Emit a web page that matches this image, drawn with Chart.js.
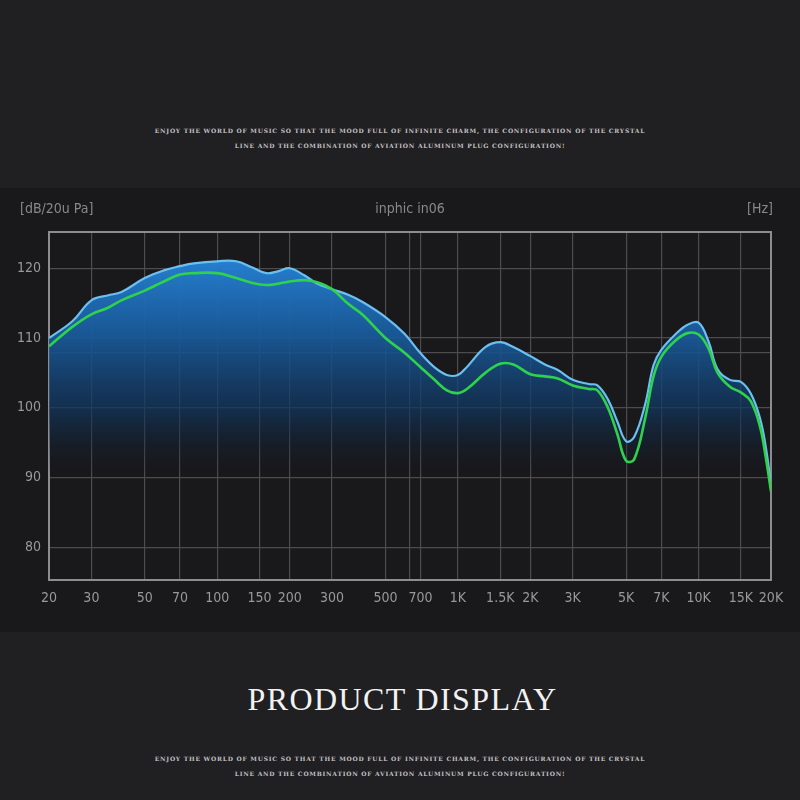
<!DOCTYPE html>
<html>
<head>
<meta charset="utf-8">
<script src="https://cdn.jsdelivr.net/npm/chart.js@4.4.1/dist/chart.umd.min.js"></script>
<style>
    html, body { margin: 0; padding: 0; }
    body { width: 800px; height: 800px; background: #201f22; position: relative; overflow: hidden; }
    .blurb { position: absolute; left: 0; width: 800px; text-align: center; color: #c4c2c4;
        font-family: "DejaVu Serif", "Liberation Serif", serif; font-weight: bold; font-size: 6px;
        letter-spacing: 0.75px; line-height: 15px; }
    #panel { position: absolute; left: 0; top: 188px; width: 800px; height: 444px; background: #19181a; }
    #title { position: absolute; left: 0; width: 805px; top: 681px; text-align: center; color: #f2f2f2;
        font-family: "Liberation Serif", "DejaVu Serif", serif; font-size: 32px; letter-spacing: 1.4px; }
</style>
</head>
<body>
<div class="blurb" style="top:123px">ENJOY THE WORLD OF MUSIC SO THAT THE MOOD FULL OF INFINITE CHARM, THE CONFIGURATION OF THE CRYSTAL<br>LINE AND THE COMBINATION OF AVIATION ALUMINUM PLUG CONFIGURATION!</div>
<div id="panel"><canvas id="fr" width="800" height="444"></canvas></div>
<div id="title">PRODUCT DISPLAY</div>
<div class="blurb" style="top:751px">ENJOY THE WORLD OF MUSIC SO THAT THE MOOD FULL OF INFINITE CHARM, THE CONFIGURATION OF THE CRYSTAL<br>LINE AND THE COMBINATION OF AVIATION ALUMINUM PLUG CONFIGURATION!</div>

<script>
// ---- data (Hz / dB) ----
const freqs = [20, 25, 30, 35, 40, 50, 60, 70, 80, 100, 120, 140, 160, 180, 200, 230, 260, 300, 350, 400,
    500, 600, 700, 800, 900, 1000, 1100, 1300, 1500, 1700, 2000, 2300, 2600, 3000, 3500, 3800, 4200, 4600,
    5000, 5400, 6000, 6500, 7000, 8000, 9000, 10000, 11000, 12000, 13500, 15000, 16500, 18000, 19000, 20000];

const blueDb = [110.0, 112.4, 115.4, 116.1, 116.6, 118.6, 119.7, 120.3, 120.7, 121.0, 121.0, 120.1, 119.3, 119.6, 120.0, 119.0, 117.8, 117.0, 116.2, 115.2,
    113.0, 110.6, 107.8, 105.8, 104.7, 104.7, 106.0, 108.7, 109.4, 108.7, 107.4, 106.2, 105.4, 104.0, 103.4, 103.2, 101.2, 98.0,
    95.2, 95.8, 100.5, 106.1, 108.3, 110.5, 111.9, 112.2, 109.5, 105.5, 104.0, 103.7, 102.0, 98.5, 94.5, 89.0];

const greenDb = [108.8, 111.6, 113.4, 114.3, 115.4, 116.8, 118.1, 119.1, 119.3, 119.3, 118.6, 117.9, 117.6, 117.8, 118.1, 118.3, 118.0, 117.0, 114.9, 113.4,
    110.0, 107.9, 105.8, 104.0, 102.5, 102.1, 102.8, 105.0, 106.3, 106.2, 104.8, 104.5, 104.2, 103.2, 102.7, 102.5, 100.0, 96.2,
    92.4, 92.6, 98.5, 104.5, 107.3, 109.6, 110.7, 110.5, 108.5, 105.0, 103.0, 102.2, 100.9, 97.3, 93.0, 88.0];

const xTickVals = [20, 30, 50, 70, 100, 150, 200, 300, 500, 630, 700, 1000, 1500, 2000, 3000, 5000, 7000, 10000, 15000, 20000];
const xTickLabels = ['20', '30', '50', '70', '100', '150', '200', '300', '500', '', '700', '1K', '1.5K', '2K', '3K', '5K', '7K', '10K', '15K', '20K'];
const yTickVals = [80, 90, 100, 107.9, 110, 120];
const yTickLabels = ['80', '90', '100', '', '110', '120'];

const unitLeft = '[dB/20u Pa]';
const chartName = 'inphic in06';
const unitRight = '[Hz]';

// ---- helpers ----
const toPoints = vals => freqs.map((f, i) => ({ x: f, y: vals[i] }));
const labelFont = '"Liberation Sans Narrow", "DejaVu Sans Condensed", "Roboto", sans-serif';

function blueFill(context) {
    const chart = context.chart;
    const y = chart.scales.y;
    if (!chart.chartArea || !y) return 'rgba(30,110,190,0.6)';
    const top = y.getPixelForValue(121.5);
    const bottom = y.getPixelForValue(90);
    const g = chart.ctx.createLinearGradient(0, top, 0, bottom);
    g.addColorStop(0, 'rgba(38,128,210,1)');
    g.addColorStop(0.35, 'rgba(25,90,154,0.95)');
    g.addColorStop(0.7, 'rgba(18,54,94,0.72)');
    g.addColorStop(1, 'rgba(20,28,40,0)');
    return g;
}

// frame around plot + header labels
const framePlugin = {
    id: 'frame',
    beforeDatasetsDraw(chart) {
        const a = chart.chartArea, ctx = chart.ctx;
        ctx.save();
        ctx.strokeStyle = '#8e8c8e';
        ctx.lineWidth = 2;
        ctx.strokeRect(a.left, a.top, a.right - a.left, a.bottom - a.top);
        ctx.restore();
    },
    afterDraw(chart) {
        const a = chart.chartArea, ctx = chart.ctx;
        ctx.save();
        ctx.fillStyle = '#8a888a';
        ctx.font = '14px ' + labelFont;
        ctx.textBaseline = 'middle';
        ctx.textAlign = 'left';
        ctx.fillText(unitLeft, 20, 21);
        ctx.textAlign = 'center';
        ctx.fillText(chartName, (a.left + a.right) / 2, 21);
        ctx.textAlign = 'right';
        ctx.fillText(unitRight, a.right + 2, 21);
        ctx.restore();
    }
};

new Chart(document.getElementById('fr'), {
    type: 'line',
    data: {
        datasets: [
            {
                label: 'green',
                data: toPoints(greenDb),
                borderColor: '#2fd24c',
                borderWidth: 2.6,
                pointRadius: 0,
                tension: 0.4,
                fill: false
            },
            {
                label: 'blue',
                data: toPoints(blueDb),
                borderColor: '#6cc0f0',
                borderWidth: 2.2,
                pointRadius: 0,
                tension: 0.4,
                fill: 'start',
                backgroundColor: blueFill
            }
        ]
    },
    options: {
        responsive: false,
        animation: false,
        layout: { padding: { left: 0, right: 29, top: 44, bottom: 0 } },
        plugins: { legend: { display: false }, tooltip: { enabled: false }, title: { display: false } },
        scales: {
            x: {
                type: 'logarithmic',
                min: 20,
                max: 20000,
                afterBuildTicks: s => { s.ticks = xTickVals.map(v => ({ value: v })); },
                afterFit: s => { s.height = 52; },
                ticks: {
                    autoSkip: false,
                    maxRotation: 0,
                    padding: 10,
                    color: '#9a989a',
                    font: { size: 14, family: labelFont },
                    callback: (v, i) => xTickLabels[i]
                },
                grid: { color: '#4d4b4e', lineWidth: 1.2, drawTicks: false },
                border: { display: false }
            },
            y: {
                min: 75.3,
                max: 125.2,
                afterBuildTicks: s => { s.ticks = yTickVals.map(v => ({ value: v })); },
                afterFit: s => { s.width = 49; },
                ticks: {
                    padding: 8,
                    color: '#9a989a',
                    font: { size: 14, family: labelFont },
                    callback: (v, i) => yTickLabels[i]
                },
                grid: { color: '#4d4b4e', lineWidth: 1.2, drawTicks: false },
                border: { display: false }
            }
        }
    },
    plugins: [framePlugin]
});
</script>
</body>
</html>
